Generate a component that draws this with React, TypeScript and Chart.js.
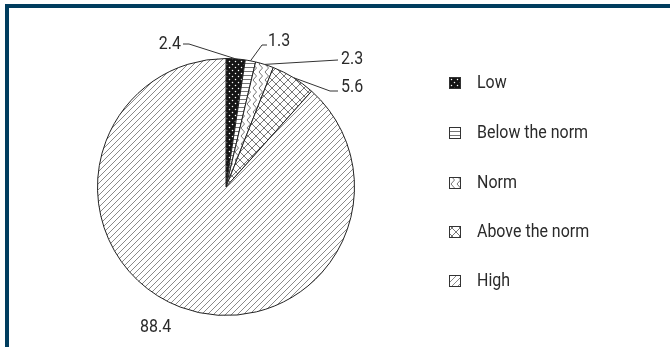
import React, { useEffect, useRef } from "react";
import { Chart, registerables } from "chart.js";

Chart.register(...registerables);

const categories = ["Low", "Below the norm", "Norm", "Above the norm", "High"];
const values = [2.4, 1.3, 2.3, 5.6, 88.4];
const valueLabels = ["2.4", "1.3", "2.3", "5.6", "88.4"];

const FONT = "Roboto, 'Liberation Sans', sans-serif";
const FONT_SIZE = 19;
const SX = 0.84; // horizontal condensing of text
const TEXT_COLOR = "#2a2a2a";

function drawText(ctx: CanvasRenderingContext2D, text: string, x: number, y: number, align: string) {
  ctx.save();
  ctx.font = `${FONT_SIZE}px ${FONT}`;
  ctx.textBaseline = "middle";
  ctx.textAlign = "left";
  const w = ctx.measureText(text).width * SX;
  const left = align === "right" ? x - w : x;
  ctx.translate(left, y);
  ctx.scale(SX, 1);
  ctx.fillStyle = TEXT_COLOR;
  ctx.fillText(text, 0, 0);
  ctx.restore();
}

function makeTile(w: number, h: number, draw: (c: CanvasRenderingContext2D) => void): CanvasPattern {
  const cv = document.createElement("canvas");
  cv.width = w;
  cv.height = h;
  const c = cv.getContext("2d") as CanvasRenderingContext2D;
  draw(c);
  const p = c.createPattern(cv, "repeat");
  return p as CanvasPattern;
}

function makePatterns(): CanvasPattern[] {
  const low = makeTile(6, 6, (c) => {
    c.fillStyle = "#151515";
    c.fillRect(0, 0, 6, 6);
    c.fillStyle = "#ffffff";
    c.beginPath();
    c.arc(1.5, 1.5, 0.75, 0, Math.PI * 2);
    c.arc(4.5, 4.5, 0.75, 0, Math.PI * 2);
    c.fill();
  });
  const below = makeTile(4, 4, (c) => {
    c.fillStyle = "#ffffff";
    c.fillRect(0, 0, 4, 4);
    c.strokeStyle = "#777";
    c.lineWidth = 1;
    c.beginPath();
    c.moveTo(0, 3.5);
    c.lineTo(4, 3.5);
    c.stroke();
  });
  const norm = makeTile(6, 8, (c) => {
    c.fillStyle = "#ffffff";
    c.fillRect(0, 0, 6, 8);
    c.strokeStyle = "#777";
    c.lineWidth = 1;
    c.beginPath();
    c.moveTo(1, 0);
    c.lineTo(4.5, 4);
    c.lineTo(1, 8);
    c.stroke();
  });
  const above = makeTile(8, 8, (c) => {
    c.fillStyle = "#ffffff";
    c.fillRect(0, 0, 8, 8);
    c.strokeStyle = "#777";
    c.lineWidth = 1;
    c.beginPath();
    c.moveTo(0, 0);
    c.lineTo(8, 8);
    c.moveTo(8, 0);
    c.lineTo(0, 8);
    c.stroke();
  });
  const high = makeTile(6, 6, (c) => {
    c.fillStyle = "#ffffff";
    c.fillRect(0, 0, 6, 6);
    c.strokeStyle = "#8a8a8a";
    c.lineWidth = 1;
    c.beginPath();
    c.moveTo(-1, 7);
    c.lineTo(7, -1);
    c.moveTo(-1, 1);
    c.lineTo(1, -1);
    c.moveTo(5, 7);
    c.lineTo(7, 5);
    c.stroke();
  });
  return [low, below, norm, above, high];
}

// label placement (layout only)
const labelLayout = [
  { pts: [[189, 44], [183, 44]], tx: 181, ty: 44, align: "right" },
  { pts: [[262, 45], [267, 45]], tx: 268, ty: 41, align: "left" },
  { pts: [[338, 60]], tx: 341, ty: 59, align: "left" },
  { pts: [[330, 91], [338, 91]], tx: 341, ty: 87, align: "left" },
  { pts: [], tx: 140, ty: 327, align: "left" },
];

const leaderPlugin = {
  id: "leaders",
  afterDatasetsDraw(chart: any) {
    const ctx = chart.ctx as CanvasRenderingContext2D;
    const meta = chart.getDatasetMeta(0);
    const labels = chart.data.datasets[0].valueLabels as string[];
    ctx.save();
    ctx.strokeStyle = "#333";
    ctx.lineWidth = 1;
    meta.data.forEach((arc: any, i: number) => {
      const L = labelLayout[i];
      const p = arc.getProps(["x", "y", "startAngle", "endAngle", "outerRadius"], true);
      const mid = (p.startAngle + p.endAngle) / 2;
      const ax = p.x + Math.cos(mid) * p.outerRadius;
      const ay = p.y + Math.sin(mid) * p.outerRadius;
      if (L.pts.length) {
        ctx.beginPath();
        ctx.moveTo(ax, ay);
        L.pts.forEach((q) => ctx.lineTo(q[0], q[1]));
        ctx.stroke();
      }
      drawText(ctx, labels[i], L.tx, L.ty, L.align);
    });
    ctx.restore();
  },
};

const legendLayout = { boxX: 449, box: 12, textX: 477, ys: [83, 133, 183, 232, 281] };

const customLegend = {
  id: "customLegend",
  afterDraw(chart: any) {
    const ctx = chart.ctx as CanvasRenderingContext2D;
    const bgs = chart.data.datasets[0].backgroundColor as CanvasPattern[];
    const labels = chart.data.labels as string[];
    ctx.save();
    labels.forEach((lab, i) => {
      const y = legendLayout.ys[i];
      const b = legendLayout.box;
      ctx.fillStyle = bgs[i] as any;
      ctx.fillRect(legendLayout.boxX, y - b / 2, b, b);
      ctx.strokeStyle = "#333";
      ctx.lineWidth = 1;
      ctx.strokeRect(legendLayout.boxX + 0.5, y - b / 2 + 0.5, b - 1, b - 1);
      drawText(ctx, lab, legendLayout.textX, y, "left");
    });
    ctx.restore();
  },
};

export default function App() {
  const ref = useRef<HTMLCanvasElement | null>(null);

  useEffect(() => {
    let chart: Chart | null = null;
    let cancelled = false;
    const build = () => {
      if (cancelled || !ref.current) return;
      const patterns = makePatterns();
      chart = new Chart(ref.current, {
        type: "pie",
        data: {
          labels: categories,
          datasets: [
            {
              data: values,
              valueLabels: valueLabels,
              backgroundColor: patterns,
              borderColor: "#222",
              borderWidth: 1,
            } as any,
          ],
        },
        options: {
          responsive: false,
          animation: false,
          devicePixelRatio: 1,
          layout: { padding: { left: 97, right: 315, top: 58, bottom: 31 } },
          plugins: {
            legend: { display: false },
            tooltip: { enabled: false },
          },
        },
        plugins: [leaderPlugin, customLegend],
      });
    };
    const fl = (document as any).fonts;
    if (fl && fl.load) {
      fl.load(`${FONT_SIZE}px Roboto`).then(build, build);
    } else {
      build();
    }
    return () => {
      cancelled = true;
      if (chart) chart.destroy();
    };
  }, []);

  return (
    <div style={{ position: "fixed", left: 0, top: 0, width: 670, height: 347, background: "#fff", overflow: "hidden" }}>
      <canvas ref={ref} width={670} height={347} style={{ position: "absolute", left: 0, top: 0, width: 670, height: 347 }} />
      <div
        style={{
          position: "absolute",
          left: 5,
          top: 4,
          width: 670,
          height: 360,
          borderTop: "4px solid #003d5e",
          borderLeft: "4px solid #003d5e",
          boxSizing: "border-box",
          pointerEvents: "none",
        }}
      />
    </div>
  );
}
